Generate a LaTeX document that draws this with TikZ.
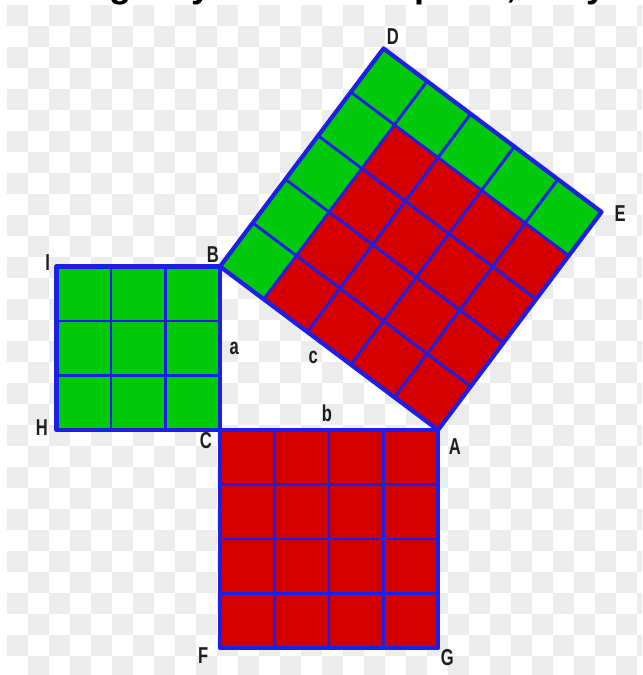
\documentclass[tikz,border=0pt]{standalone}
\usepackage{fontspec}
\setmainfont{Liberation Sans}
\definecolor{cellgreen}{RGB}{0,200,10}
\definecolor{cellred}{RGB}{212,0,0}
\definecolor{gridblue}{RGB}{30,30,230}
\definecolor{chkgray}{RGB}{236,236,236}
\definecolor{lblgray}{RGB}{30,30,30}
\tikzset{
  chk/.style={fill=chkgray},
  gcell/.style={fill=cellgreen},
  rcell/.style={fill=cellred},
  inner/.style={draw=gridblue, line width=1.5pt},
  outer/.style={draw=gridblue, line width=2.2pt, line join=round},
  lbl/.style={font=\bfseries\fontsize{12}{13}\selectfont, text=lblgray, xscale=0.72, inner sep=0pt},
  ttl/.style={font=\bfseries\fontsize{18.8}{20}\selectfont, text=black, inner sep=0pt, anchor=base west}
}
\begin{document}
\begin{tikzpicture}
\useasboundingbox (-4.037,-4.495) rectangle (7.743,7.890);
% checkered background
\begin{scope}
\clip (-4.037,-4.495) rectangle (7.743,7.890);
\fill[white] (-4.037,-4.495) rectangle (7.743,7.890);
\foreach \i in {0,...,30}{
  \foreach \j in {0,...,32}{
    \pgfmathtruncatemacro\chkpar{mod(\i+\j,2)}
    \ifnum\chkpar=0
      \fill[chk] ({-3.91+\i*0.3853},{7.80-\j*0.3853}) rectangle ++(0.3853,-0.3853);
    \fi
  }
}
\node[ttl] (title) at (-3.80,7.935) {Seeing why areas add: proof, easy};
\end{scope}
% corner points
\coordinate (C) at (0,0);
\coordinate (A) at (4,0);
\coordinate (B) at (0,3);
\coordinate (H) at (-3,0);
\coordinate (I) at (-3,3);
\coordinate (F) at (0,-4);
\coordinate (G) at (4,-4);
\coordinate (D) at (3,7);
\coordinate (E) at (7,4);
% square on a
\foreach \i in {0,1,2}{\foreach \j in {0,1,2}{
  \fill[gcell] ({-3+\i},\j) rectangle ++(1,1);}}
\draw[inner] (H) grid (B);
\draw[outer] (H) rectangle (B);
% square on b
\foreach \i in {0,...,3}{\foreach \j in {0,...,3}{
  \fill[rcell] (\i,{-4+\j}) rectangle ++(1,1);}}
\draw[inner] (F) grid (A);
\draw[outer] (F) rectangle (A);
% square on c
\begin{scope}[shift={(B)}, rotate=-36.8699]
\foreach \i in {0,...,4}{\foreach \j in {0,...,4}{
  \pgfmathtruncatemacro\isg{(\i==0)||(\j==4)}
  \ifnum\isg=1 \fill[gcell] (\i,\j) rectangle ++(1,1);
  \else \fill[rcell] (\i,\j) rectangle ++(1,1);\fi}}
\draw[inner] (0,0) grid (5,5);
\end{scope}
\draw[outer] (B) -- (A) -- (E) -- (D) -- cycle;
% labels
\node[lbl] (lD) at (3.17,7.21) {D};
\node[lbl] (lE) at (7.34,3.98) {E};
\node[lbl] (lB) at (-0.13,3.21) {B};
\node[lbl] (lI) at (-3.16,3.08) {I};
\node[lbl] (lH) at (-3.27,0.04) {H};
\node[lbl] (lC) at (-0.26,-0.20) {C};
\node[lbl] (lA) at (4.31,-0.31) {A};
\node[lbl] (lF) at (-0.31,-4.13) {F};
\node[lbl] (lG) at (4.17,-4.18) {G};
\node[lbl] (la) at (0.26,1.50) {a};
\node[lbl] (lb) at (1.96,0.31) {b};
\node[lbl] (lc) at (1.71,1.34) {c};
\end{tikzpicture}
\end{document}
